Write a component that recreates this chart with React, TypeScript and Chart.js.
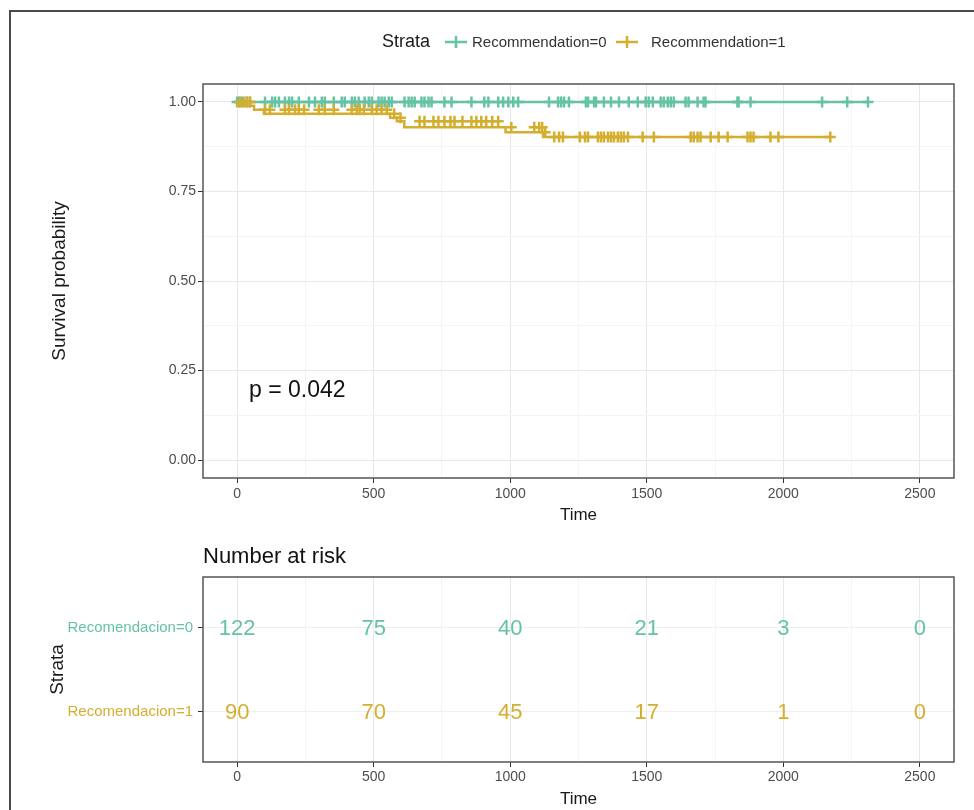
import React, { useEffect, useRef } from 'react';
import { Chart, registerables } from 'chart.js';

Chart.register(...registerables);

const GREEN = '#66C2A5';
const GOLD = '#D4AE2E';
const FONT = "'Liberation Sans', Arial, Helvetica, sans-serif";
const TICK_COLOR = '#4D4D4D';
const TEXT_COLOR = '#1A1A1A';

// ---- data ----
const xTicks = [0, 500, 1000, 1500, 2000, 2500];
const xMinor = [250, 750, 1250, 1750, 2250];
const yTicks = [0, 0.25, 0.5, 0.75, 1];
const yTickLabels = ['0.00', '0.25', '0.50', '0.75', '1.00'];
const yMinor = [0.125, 0.375, 0.625, 0.875];

const strataLabels = ['Recommendation=0', 'Recommendation=1'];
const riskRowLabels = ['Recomendacion=0', 'Recomendacion=1'];

// Kaplan-Meier step points (time, survival)
const greenStepTimes = [0, 2310];
const greenStepSurv = [1, 1];
const goldStepTimes = [0, 62, 98, 560, 585, 612, 983, 1120, 1135, 2172];
const goldStepSurv = [1, 0.989, 0.978, 0.967, 0.956, 0.946, 0.929, 0.915, 0.902, 0.902];

// censoring times
const greenCensor = [0, 8, 18, 36, 47, 102, 128, 139, 153, 175, 190, 201, 226, 263, 285, 310, 321, 354, 383, 394,
  420, 431, 445, 467, 482, 493, 518, 529, 540, 555, 566, 613, 628, 639, 650, 675, 686, 701, 712, 759, 785, 858,
  905, 920, 956, 974, 993, 1011, 1029, 1142, 1175, 1186, 1197, 1215, 1277, 1285, 1307, 1314, 1343, 1369, 1398,
  1434, 1467, 1496, 1507, 1522, 1551, 1562, 1577, 1588, 1599, 1642, 1653, 1686, 1708, 1715, 1832, 1836, 1880,
  2142, 2234, 2310];
const goldCensor = [11, 26, 36, 47, 102, 120, 175, 190, 212, 226, 245, 299, 321, 354, 420, 438, 449, 464, 493, 511,
  529, 548, 575, 598, 668, 686, 719, 737, 759, 781, 796, 825, 858, 876, 894, 912, 934, 956, 1004, 1088, 1106,
  1117, 1128, 1161, 1179, 1193, 1255, 1274, 1285, 1321, 1332, 1343, 1358, 1369, 1380, 1394, 1405, 1416, 1431,
  1485, 1526, 1661, 1672, 1686, 1697, 1734, 1763, 1796, 1869, 1880, 1891, 1953, 1982, 2172];

// number at risk
const riskTimes = [0, 500, 1000, 1500, 2000, 2500];
const risk0 = [122, 75, 40, 21, 3, 0];
const risk1 = [90, 70, 45, 17, 1, 0];

const pValueText = 'p = 0.042';

// ---- helpers ----
function survAt(times: number[], surv: number[], t: number) {
  let s = surv[0];
  for (let i = 0; i < times.length; i++) if (times[i] <= t) s = surv[i];
  return s;
}

const panelBorder = {
  id: 'panelBorder',
  afterDraw(chart: any) {
    const { ctx, chartArea: a } = chart;
    ctx.save();
    ctx.strokeStyle = '#555555';
    ctx.lineWidth = 1.5;
    ctx.strokeRect(a.left, a.top, a.right - a.left, a.bottom - a.top);
    ctx.restore();
  },
};

const riskLabels = {
  id: 'riskLabels',
  afterDatasetsDraw(chart: any) {
    const ctx = chart.ctx;
    ctx.save();
    ctx.font = `22px ${FONT}`;
    ctx.textAlign = 'center';
    ctx.textBaseline = 'middle';
    chart.data.datasets.forEach((ds: any, i: number) => {
      const meta = chart.getDatasetMeta(i);
      ctx.fillStyle = ds.textColor;
      meta.data.forEach((el: any, j: number) => {
        ctx.fillText(String(ds.counts[j]), el.x, el.y + 1);
      });
    });
    ctx.restore();
  },
};

const xAll = [...xTicks, ...xMinor].sort((a, b) => a - b);

function xScale(heightPx: number, labelPad: number, titlePadBottom: number) {
  return {
    type: 'linear',
    min: -125,
    max: 2625,
    afterBuildTicks: (a: any) => {
      a.ticks = xAll.map((v) => ({ value: v }));
    },
    afterFit: (s: any) => {
      s.height = heightPx;
    },
    border: { display: false },
    grid: {
      color: (c: any) => (c.tick && xTicks.includes(c.tick.value) ? '#E8E8E8' : '#F4F4F4'),
      lineWidth: 1,
      tickLength: 5,
      tickWidth: 1,
      tickColor: (c: any) => (c.tick && xTicks.includes(c.tick.value) ? '#333333' : 'rgba(0,0,0,0)'),
    },
    ticks: {
      autoSkip: false,
      maxRotation: 0,
      padding: labelPad,
      color: TICK_COLOR,
      font: { family: FONT, size: 14 },
      callback: (v: any) => (xTicks.includes(v) ? String(v) : ''),
    },
    title: {
      display: true,
      text: 'Time',
      color: TEXT_COLOR,
      font: { family: FONT, size: 17 },
      padding: { top: 0, bottom: titlePadBottom },
    },
  };
}

export default function App() {
  const mainRef = useRef<HTMLCanvasElement>(null);
  const riskRef = useRef<HTMLCanvasElement>(null);

  useEffect(() => {
    const greenLine = greenStepTimes.map((t, i) => ({ x: t, y: greenStepSurv[i] }));
    const goldLine = goldStepTimes.map((t, i) => ({ x: t, y: goldStepSurv[i] }));
    const greenCens = greenCensor.map((t) => ({ x: t, y: survAt(greenStepTimes, greenStepSurv, t) }));
    const goldCens = goldCensor.map((t) => ({ x: t, y: survAt(goldStepTimes, goldStepSurv, t) }));
    const yAll = [...yTicks, ...yMinor].sort((a, b) => a - b);

    const main = new Chart(mainRef.current as HTMLCanvasElement, {
      type: 'scatter',
      data: {
        datasets: [
          {
            label: strataLabels[0],
            data: greenLine,
            showLine: true,
            stepped: 'after',
            borderColor: GREEN,
            borderWidth: 2.5,
            pointRadius: 0,
            order: 4,
          },
          {
            label: strataLabels[0] + ' censored',
            data: greenCens,
            showLine: false,
            pointStyle: 'cross',
            pointRadius: 5.5,
            pointBorderWidth: 2.5,
            pointBorderColor: GREEN,
            pointBackgroundColor: GREEN,
            order: 3,
          },
          {
            label: strataLabels[1],
            data: goldLine,
            showLine: true,
            stepped: 'after',
            borderColor: GOLD,
            borderWidth: 2.5,
            pointRadius: 0,
            order: 2,
          },
          {
            label: strataLabels[1] + ' censored',
            data: goldCens,
            showLine: false,
            pointStyle: 'cross',
            pointRadius: 5.5,
            pointBorderWidth: 2.5,
            pointBorderColor: GOLD,
            pointBackgroundColor: GOLD,
            order: 1,
          },
        ],
      },
      options: {
        responsive: false,
        animation: false,
        events: [],
        layout: { padding: { left: 0, top: 84, right: 20, bottom: 0 } },
        plugins: { legend: { display: false }, tooltip: { enabled: false }, title: { display: false } },
        scales: {
          x: xScale(62, 3, 14),
          y: {
            type: 'linear',
            min: -0.05,
            max: 1.05,
            afterBuildTicks: (a: any) => {
              a.ticks = yAll.map((v) => ({ value: v }));
            },
            afterFit: (s: any) => {
              s.width = 203;
            },
            border: { display: false },
            grid: {
              color: (c: any) => (c.tick && yTicks.includes(c.tick.value) ? '#E8E8E8' : '#F4F4F4'),
              lineWidth: 1,
              tickLength: 5,
              tickWidth: 1,
              tickColor: (c: any) => (c.tick && yTicks.includes(c.tick.value) ? '#333333' : 'rgba(0,0,0,0)'),
            },
            ticks: {
              autoSkip: false,
              padding: 2,
              color: TICK_COLOR,
              font: { family: FONT, size: 14 },
              callback: (v: any) => {
                const i = yTicks.indexOf(v);
                return i >= 0 ? yTickLabels[i] : '';
              },
            },
            title: {
              display: true,
              text: 'Survival probability',
              color: TEXT_COLOR,
              font: { family: FONT, size: 19 },
              padding: { top: 48, bottom: 0 },
            },
          },
        },
      } as any,
      plugins: [panelBorder],
    });

    const risk = new Chart(riskRef.current as HTMLCanvasElement, {
      type: 'scatter',
      data: {
        datasets: [
          {
            label: riskRowLabels[0],
            data: riskTimes.map((t) => ({ x: t, y: 2 })),
            counts: risk0,
            textColor: GREEN,
            pointRadius: 0,
          } as any,
          {
            label: riskRowLabels[1],
            data: riskTimes.map((t) => ({ x: t, y: 1 })),
            counts: risk1,
            textColor: GOLD,
            pointRadius: 0,
          } as any,
        ],
      },
      options: {
        responsive: false,
        animation: false,
        events: [],
        layout: { padding: { left: 0, top: 37, right: 20, bottom: 0 } },
        plugins: { legend: { display: false }, tooltip: { enabled: false }, title: { display: false } },
        scales: {
          x: xScale(48, 2, 0),
          y: {
            type: 'linear',
            min: 0.4,
            max: 2.6,
            afterBuildTicks: (a: any) => {
              a.ticks = [{ value: 1 }, { value: 2 }];
            },
            afterFit: (s: any) => {
              s.width = 203;
            },
            border: { display: false },
            grid: {
              color: '#EFEFEF',
              lineWidth: 1,
              tickLength: 5,
              tickWidth: 1,
              tickColor: '#333333',
            },
            ticks: {
              autoSkip: false,
              padding: 5,
              color: (c: any) => (c.tick && c.tick.value === 2 ? GREEN : GOLD),
              font: { family: FONT, size: 15 },
              callback: (v: any) => (v === 2 ? riskRowLabels[0] : v === 1 ? riskRowLabels[1] : ''),
            },
            title: {
              display: true,
              text: 'Strata',
              color: TEXT_COLOR,
              font: { family: FONT, size: 19 },
              padding: { top: 46, bottom: 0 },
            },
          },
        },
      } as any,
      plugins: [panelBorder, riskLabels],
    });

    return () => {
      main.destroy();
      risk.destroy();
    };
  }, []);

  const legendSymbol = (color: string) => (
    <svg width={24} height={16} style={{ display: 'block' }}>
      <line x1={1} y1={8} x2={23} y2={8} stroke={color} strokeWidth={2.5} />
      <line x1={12} y1={2} x2={12} y2={14} stroke={color} strokeWidth={2.5} />
    </svg>
  );

  const abs = (left: number, centerY: number, size: number, color: string): React.CSSProperties => ({
    position: 'absolute',
    left,
    top: centerY - size * 0.6,
    height: size * 1.2,
    lineHeight: `${size * 1.2}px`,
    fontSize: size,
    fontFamily: FONT,
    color,
    whiteSpace: 'nowrap',
  });

  return (
    <div
      style={{
        position: 'absolute',
        left: 0,
        top: 0,
        width: 974,
        height: 810,
        overflow: 'hidden',
        background: '#ffffff',
      }}
    >
      <div
        style={{
          position: 'absolute',
          left: 9,
          top: 10,
          width: 1200,
          height: 1200,
          borderLeft: '2px solid #4a4a4a',
          borderTop: '2px solid #4a4a4a',
        }}
      />
      <canvas
        ref={mainRef}
        width={974}
        height={540}
        style={{ position: 'absolute', left: 0, top: 0, width: 974, height: 540 }}
      />
      <canvas
        ref={riskRef}
        width={974}
        height={270}
        style={{ position: 'absolute', left: 0, top: 540, width: 974, height: 270 }}
      />
      {/* legend */}
      <div style={abs(382, 42, 18, TEXT_COLOR)}>Strata</div>
      <div style={{ position: 'absolute', left: 444, top: 34 }}>{legendSymbol(GREEN)}</div>
      <div style={abs(472, 42, 15, '#333333')}>{strataLabels[0]}</div>
      <div style={{ position: 'absolute', left: 615, top: 34 }}>{legendSymbol(GOLD)}</div>
      <div style={abs(651, 42, 15, '#333333')}>{strataLabels[1]}</div>
      {/* p value */}
      <div style={abs(249, 390, 23, '#111111')}>{pValueText}</div>
      {/* risk table title */}
      <div style={abs(203, 556, 22, '#111111')}>Number at risk</div>
    </div>
  );
}
